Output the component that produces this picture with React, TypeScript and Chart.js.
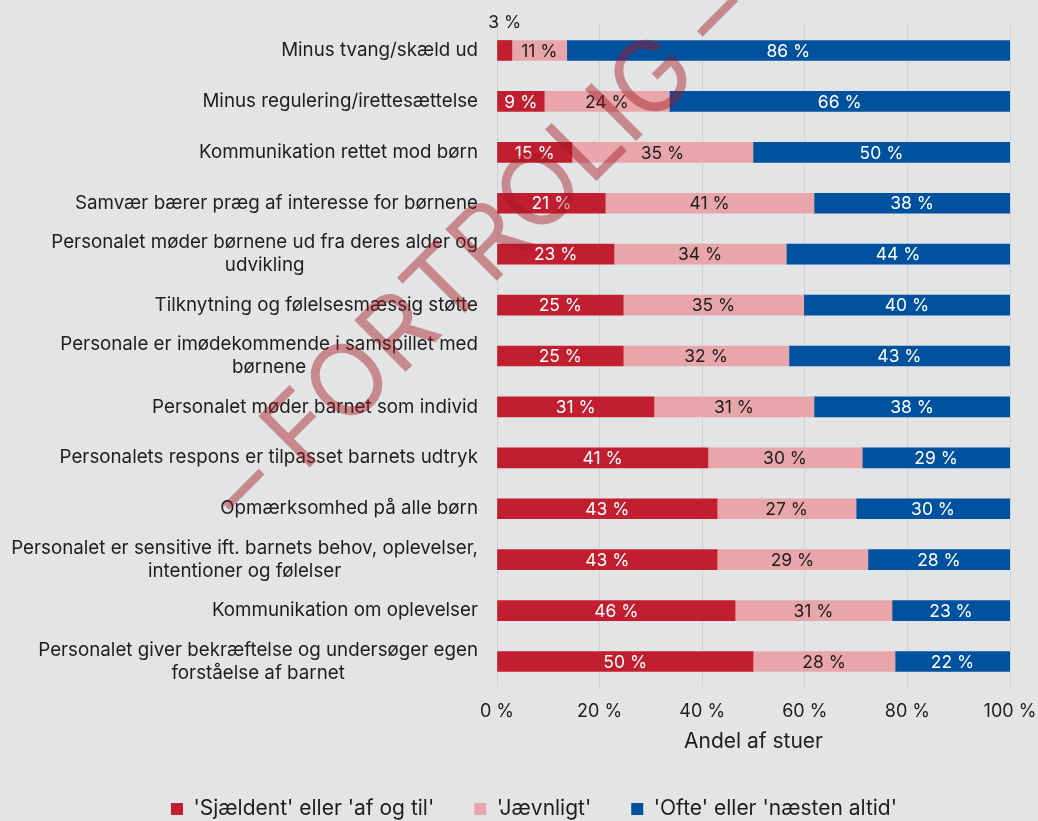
import React, { useEffect, useRef } from "react";
import { Chart, registerables } from "chart.js";

Chart.register(...registerables);

// ---------- data ----------
const categories: string[][] = [
  ["Minus tvang/skæld ud"],
  ["Minus regulering/irettesættelse"],
  ["Kommunikation rettet mod børn"],
  ["Samvær bærer præg af interesse for børnene"],
  ["Personalet møder børnene ud fra deres alder og", "udvikling"],
  ["Tilknytning og følelsesmæssig støtte"],
  ["Personale er imødekommende i samspillet med", "børnene"],
  ["Personalet møder barnet som individ"],
  ["Personalets respons er tilpasset barnets udtryk"],
  ["Opmærksomhed på alle børn"],
  ["Personalet er sensitive ift. barnets behov, oplevelser,", "intentioner og følelser"],
  ["Kommunikation om oplevelser"],
  ["Personalet giver bekræftelse og undersøger egen", "forståelse af barnet"],
];

const seriesNames = [
  "'Sjældent' eller 'af og til'",
  "'Jævnligt'",
  "'Ofte' eller 'næsten altid'",
];

const rarely = [2.9, 9.2, 14.6, 21.1, 22.8, 24.6, 24.6, 30.6, 41.1, 42.9, 42.9, 46.4, 49.9];
const regularly = [10.7, 24.4, 35.3, 40.7, 33.6, 35.2, 32.3, 31.2, 30.1, 27.1, 29.4, 30.6, 27.7];
const often = [86.4, 66.4, 50.1, 38.2, 43.6, 40.2, 43.1, 38.2, 28.8, 30.0, 27.7, 23.0, 22.4];

const xTicks = [0, 20, 40, 60, 80, 100];
const xTitle = "Andel af stuer";
const watermark = "– FORTROLIG –";

// ---------- style ----------
const BG = "#e3e4e6";
const TEXT = "#1e1e1e";
const COLORS = ["#c11e30", "#e8a6ab", "#00519e"];
const LABEL_COLORS = ["#ffffff", "#1e1e1e", "#ffffff"];
const FONT = "Inter";

export default function App() {
  const ref = useRef<HTMLCanvasElement>(null);

  useEffect(() => {
    const canvas = ref.current;
    if (!canvas) return;

    const bgPlugin = {
      id: "bg",
      beforeDraw(chart: any) {
        const { ctx, width, height } = chart;
        ctx.save();
        ctx.fillStyle = BG;
        ctx.fillRect(0, 0, width, height);
        ctx.restore();
      },
    };

    const dataLabelPlugin = {
      id: "dataLabels",
      afterDatasetsDraw(chart: any) {
        const { ctx } = chart;
        ctx.save();
        ctx.font = `17.5px ${FONT}`;
        ctx.textAlign = "center";
        ctx.textBaseline = "middle";
        chart.data.datasets.forEach((ds: any, di: number) => {
          const meta = chart.getDatasetMeta(di);
          meta.data.forEach((bar: any, i: number) => {
            const v = ds.data[i];
            const text = `${Math.round(v)} %`;
            const cx = (bar.x + bar.base) / 2;
            const w = Math.abs(bar.x - bar.base);
            const tw = ctx.measureText(text).width;
            if (w < tw + 4) {
              ctx.fillStyle = TEXT;
              ctx.fillText(text, cx, bar.y - 28);
            } else {
              ctx.fillStyle = LABEL_COLORS[di];
              ctx.fillText(text, cx, bar.y + 1);
            }
          });
        });
        ctx.restore();
      },
    };

    const overlayPlugin = {
      id: "overlay",
      afterDraw(chart: any) {
        const { ctx, chartArea } = chart;
        const yScale = chart.scales.y;
        // category labels
        ctx.save();
        ctx.font = `18.75px ${FONT}`;
        ctx.fillStyle = TEXT;
        ctx.textBaseline = "middle";
        const rightX = chartArea.left - 19;
        const lh = 22.7;
        categories.forEach((lines, i) => {
          const cy = yScale.getPixelForValue(i);
          const w = Math.max(...lines.map((l) => ctx.measureText(l).width));
          lines.forEach((line, j) => {
            const y = cy + (j - (lines.length - 1) / 2) * lh;
            if (lines.length === 1) {
              ctx.textAlign = "right";
              ctx.fillText(line, rightX, y);
            } else {
              ctx.textAlign = "center";
              ctx.fillText(line, rightX - w / 2, y);
            }
          });
        });
        ctx.restore();

        // watermark
        ctx.save();
        ctx.translate(477, 249);
        ctx.rotate(-Math.PI / 4);
        const fs = 100;
        ctx.font = `${fs}px ${FONT}`;
        ctx.fillStyle = "rgba(165, 25, 35, 0.45)";
        ctx.textAlign = "center";
        ctx.textBaseline = "alphabetic";
        ctx.fillText(watermark, 0, fs * 0.364);
        ctx.restore();
      },
    };

    const chart = new Chart(canvas, {
      type: "bar",
      data: {
        labels: categories.map((l) => l.join(" ")),
        datasets: [
          { label: seriesNames[0], data: rarely, backgroundColor: COLORS[0] },
          { label: seriesNames[1], data: regularly, backgroundColor: COLORS[1] },
          { label: seriesNames[2], data: often, backgroundColor: COLORS[2] },
        ].map((d) => ({ ...d, barThickness: 20, borderWidth: 0 })),
      },
      options: {
        indexAxis: "y",
        animation: false,
        responsive: true,
        maintainAspectRatio: false,
        layout: { padding: { left: 58, right: 28, top: 25, bottom: -8.5 } },
        scales: {
          x: {
            stacked: true,
            min: 0,
            max: 100,
            afterBuildTicks: (scale: any) => {
              scale.ticks = xTicks.map((v) => ({ value: v }));
            },
            ticks: {
              padding: 0,
              color: TEXT,
              font: { family: FONT, size: 18 },
              callback: (v: any) => `${v} %`,
            },
            grid: {
              color: "#d1d2d4",
              lineWidth: 1,
              drawTicks: true,
              tickLength: 13.9,
              tickColor: "rgba(0,0,0,0)",
            },
            border: { display: false },
            title: {
              display: true,
              text: xTitle,
              color: TEXT,
              font: { family: FONT, size: 21 },
              padding: { top: 6.9, bottom: 3.9 },
            },
          },
          y: {
            stacked: true,
            display: true,
            ticks: { display: false },
            grid: { display: false },
            border: { display: false },
            afterFit: (scale: any) => {
              scale.width = 439;
            },
          },
        },
        plugins: {
          legend: {
            position: "bottom",
            labels: {
              boxWidth: 12,
              boxHeight: 12,
              padding: 40,
              color: TEXT,
              font: { family: FONT, size: 21 },
            },
          },
          tooltip: { enabled: false },
        },
      },
      plugins: [bgPlugin, dataLabelPlugin, overlayPlugin],
    } as any);

    return () => chart.destroy();
  }, []);

  return (
    <div
      style={{
        position: "fixed",
        left: 0,
        top: 0,
        width: 1038,
        height: 821,
        background: BG,
      }}
    >
      <canvas ref={ref} />
    </div>
  );
}
